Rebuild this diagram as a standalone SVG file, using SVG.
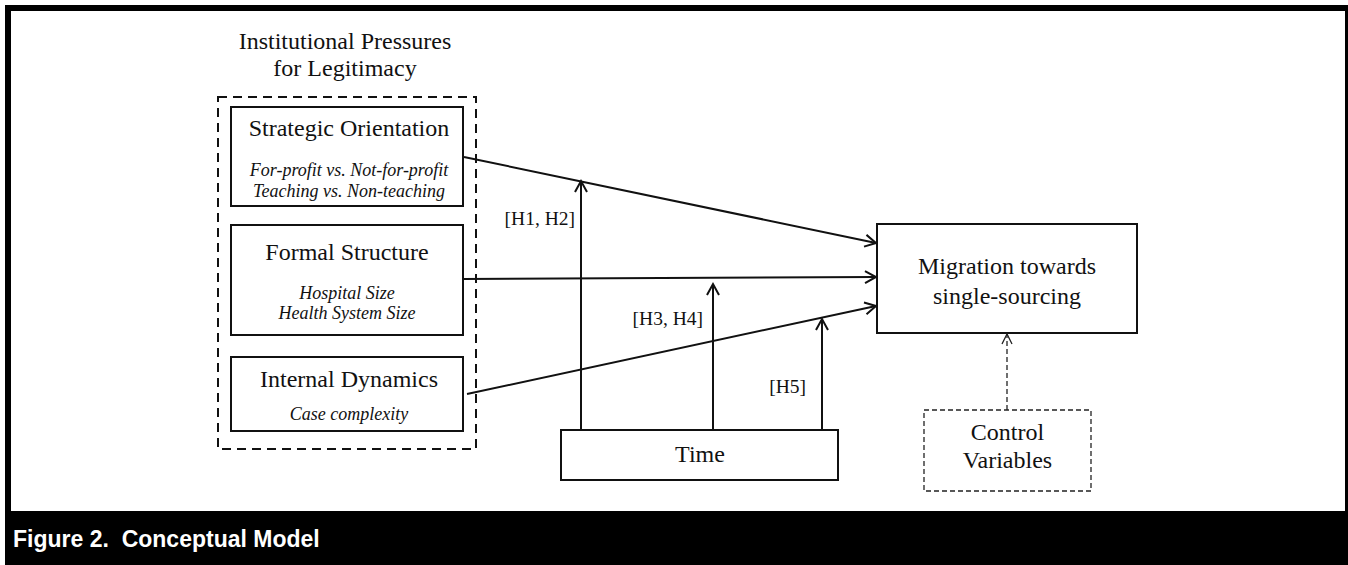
<svg xmlns="http://www.w3.org/2000/svg" width="1348" height="565" viewBox="0 0 1348 565">
  <style>
    .serif { font-family: "Liberation Serif", "Times New Roman", serif; fill: #111; }
    .head { font-size: 24px; text-anchor: middle; }
    .sub { font-size: 18px; font-style: italic; text-anchor: middle; }
    .hyp { font-size: 19.5px; text-anchor: end; }
    .box { fill: #fff; stroke: #111; stroke-width: 2; }
    .group { fill: none; stroke: #111; stroke-width: 2; stroke-dasharray: 9 6; }
    .dbox { fill: #fff; stroke: #222; stroke-width: 1.3; stroke-dasharray: 5 3; }
    .link { fill: none; stroke: #111; stroke-width: 2; marker-end: url(#head); }
    .dlink { fill: none; stroke: #222; stroke-width: 1.3; stroke-dasharray: 5 3; marker-end: url(#headThin); }
    .caption { font-family: "Liberation Sans", Arial, sans-serif; font-weight: bold; font-size: 23px; fill: #fff; }
  </style>
  <defs>
    <marker id="head" markerUnits="userSpaceOnUse" viewBox="-13 -8 15 16" markerWidth="15" markerHeight="16" refX="0" refY="0" orient="auto" overflow="visible">
      <path d="M-11,-6 L0,0 L-11,6" fill="none" stroke="#111" stroke-width="2"/>
    </marker>
    <marker id="headThin" markerUnits="userSpaceOnUse" viewBox="-12 -7 14 14" markerWidth="14" markerHeight="14" refX="0" refY="0" orient="auto" overflow="visible">
      <path d="M-10,-5 L0,0 L-10,5" fill="none" stroke="#222" stroke-width="1.3"/>
    </marker>
  </defs>

  <!-- frame and caption bar -->
  <rect x="5" y="5" width="1343" height="560" fill="#000"/>
  <rect x="11" y="11" width="1334" height="500" fill="#fff"/>
  <text class="caption" x="13" y="547" xml:space="preserve">Figure 2.  Conceptual Model</text>

  <!-- institutional pressures group -->
  <g id="institutional-pressures">
    <text class="serif head" x="345" y="49">Institutional Pressures</text>
    <text class="serif head" x="345" y="76">for Legitimacy</text>
    <rect class="group" x="218" y="97" width="258" height="352"/>
  </g>

  <g id="strategic-orientation">
    <rect class="box" x="231" y="107" width="232" height="99"/>
    <text class="serif head" x="349" y="136">Strategic Orientation</text>
    <text class="serif sub" x="349" y="176">For-profit vs. Not-for-profit</text>
    <text class="serif sub" x="349" y="197">Teaching vs. Non-teaching</text>
  </g>

  <g id="formal-structure">
    <rect class="box" x="231" y="225" width="232" height="110"/>
    <text class="serif head" x="347" y="260">Formal Structure</text>
    <text class="serif sub" x="347" y="299">Hospital Size</text>
    <text class="serif sub" x="347" y="319">Health System Size</text>
  </g>

  <g id="internal-dynamics">
    <rect class="box" x="231" y="357" width="232" height="74"/>
    <text class="serif head" x="349" y="387">Internal Dynamics</text>
    <text class="serif sub" x="349" y="420">Case complexity</text>
  </g>

  <g id="migration">
    <rect class="box" x="877" y="224" width="260" height="109"/>
    <text class="serif head" x="1007" y="274">Migration towards</text>
    <text class="serif head" x="1007" y="304">single-sourcing</text>
  </g>

  <g id="time">
    <rect class="box" x="561" y="430" width="277" height="50"/>
    <text class="serif head" x="700" y="462">Time</text>
  </g>

  <g id="control-variables">
    <rect class="dbox" x="924" y="410" width="167" height="81"/>
    <text class="serif head" x="1007.5" y="440">Control</text>
    <text class="serif head" x="1007.5" y="468">Variables</text>
  </g>

  <!-- connectors -->
  <g id="connectors">
    <line class="link" x1="464" y1="157" x2="876" y2="243"/>
    <line class="link" x1="463" y1="279" x2="876" y2="277"/>
    <line class="link" x1="467" y1="394" x2="876" y2="306"/>
    <line class="link" x1="581" y1="430" x2="581" y2="181"/>
    <line class="link" x1="713" y1="430" x2="713" y2="284"/>
    <line class="link" x1="822" y1="430" x2="822" y2="319"/>
    <line class="dlink" x1="1007" y1="410" x2="1007" y2="334"/>
    <text class="serif hyp" x="575" y="225">[H1, H2]</text>
    <text class="serif hyp" x="703" y="325">[H3, H4]</text>
    <text class="serif hyp" x="806" y="393">[H5]</text>
  </g>
</svg>
